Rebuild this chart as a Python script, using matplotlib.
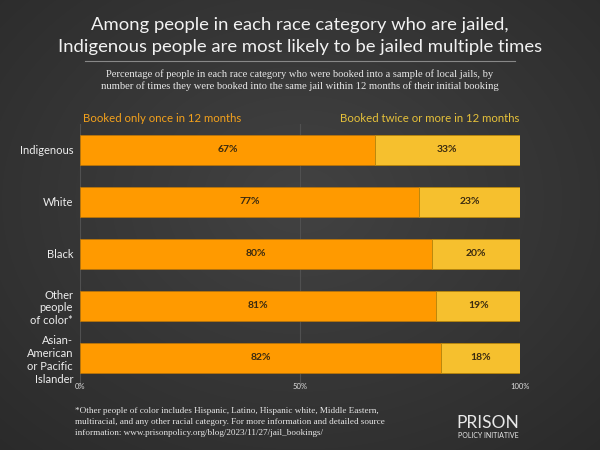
import numpy as np
import matplotlib.pyplot as plt

categories = ['Indigenous', 'White', 'Black', 'Other\npeople\nof color*',
              'Asian-\nAmerican\nor Pacific\nIslander']
once = [67, 77, 80, 81, 82]
twice = [33, 23, 20, 19, 18]
ticks = [0, 50, 100]
tick_labels = ['0%', '50%', '100%']

orange = '#ff9a00'
yellow = '#f6c02e'
sans = ['Lato', 'DejaVu Sans']
serif = ['Liberation Serif', 'DejaVu Serif']

fig = plt.figure(figsize=(6, 4.5), dpi=100)

# background with a soft radial gradient
bg = fig.add_axes([0, 0, 1, 1])
yy, xx = np.mgrid[0:450, 0:600]
r = np.sqrt(((xx - 300) / 420.0) ** 2 + ((yy - 200) / 330.0) ** 2)
shade = np.clip(0.26 - 0.09 * r, 0.15, 0.26)
bg.imshow(np.dstack([shade, shade, shade]), extent=[0, 1, 0, 1], aspect='auto', zorder=0)
bg.axis('off')

ax = fig.add_axes([80 / 600, 1 - 384 / 450, 440 / 600, 260 / 450])
ax.set_facecolor('none')
y = np.arange(len(categories))
ax.barh(y, once, height=0.58, color=orange, edgecolor='#b8740a', linewidth=0.6, zorder=3)
ax.barh(y, twice, left=once, height=0.58, color=yellow, edgecolor='#b8860b', linewidth=0.6, zorder=3)
for i in range(len(categories)):
    ax.text(once[i] / 2, y[i], f'{once[i]}%', ha='center', va='center',
            fontsize=7.5, fontweight='bold', color='#3a2a10', family=sans, zorder=4)
    ax.text(once[i] + twice[i] / 2, y[i], f'{twice[i]}%', ha='center', va='center',
            fontsize=7.5, fontweight='bold', color='#3a2a10', family=sans, zorder=4)

ax.set_xlim(0, 100)
ax.set_ylim(len(categories) - 0.5, -0.5)
ax.set_yticks(y)
ax.set_yticklabels(categories, fontsize=8, color='#eeeeee', family=sans, linespacing=1.2)
ax.set_xticks(ticks)
ax.set_xticklabels(tick_labels, fontsize=5.5, color='#dddddd', family=sans)
ax.tick_params(length=0)
ax.tick_params(axis='x', pad=-1)
ax.tick_params(axis='y', pad=5)
for s in ax.spines.values():
    s.set_visible(False)
ax.grid(axis='x', color='#505050', linewidth=0.8, zorder=1)

fig.text(0.5, 1 - 36 / 450, 'Among people in each race category who are jailed,\n'
         'Indigenous people are most likely to be jailed multiple times',
         ha='center', va='center', fontsize=13.3, color='#f2f2f2', family=sans, linespacing=1.4)
fig.add_artist(plt.Line2D([85 / 600, 515 / 600], [1 - 61 / 450, 1 - 61 / 450],
                          color='#888888', linewidth=0.8))
fig.text(0.5, 1 - 80 / 450, 'Percentage of people in each race category who were booked into a sample of local jails, by\n'
         'number of times they were booked into the same jail within 12 months of their initial booking',
         ha='center', va='center', fontsize=7.6, color='#e8e8e8', family=serif, linespacing=1.3)
fig.text(83 / 600, 1 - 118 / 450, 'Booked only once in 12 months', ha='left', va='center',
         fontsize=8.2, color='#f3a11c', family=sans)
fig.text(519 / 600, 1 - 118 / 450, 'Booked twice or more in 12 months', ha='right', va='center',
         fontsize=8.2, color='#e6c13a', family=sans)

fig.text(75 / 600, 1 - 422 / 450, '*Other people of color includes Hispanic, Latino, Hispanic white, Middle Eastern,\n'
         'multiracial, and any other racial category. For more information and detailed source\n'
         'information: www.prisonpolicy.org/blog/2023/11/27/jail_bookings/',
         ha='left', va='center', fontsize=6.6, color='#e8e8e8', family=serif, linespacing=1.45)
fig.text(488 / 600, 1 - 423 / 450, 'PRISON', ha='center', va='center', fontsize=12.5,
         color='#e8e8e8', family=sans)
fig.text(488 / 600, 1 - 436 / 450, 'POLICY INITIATIVE', ha='center', va='center', fontsize=5,
         color='#e8e8e8', family=sans)

fig.savefig('out.png', dpi=100)
